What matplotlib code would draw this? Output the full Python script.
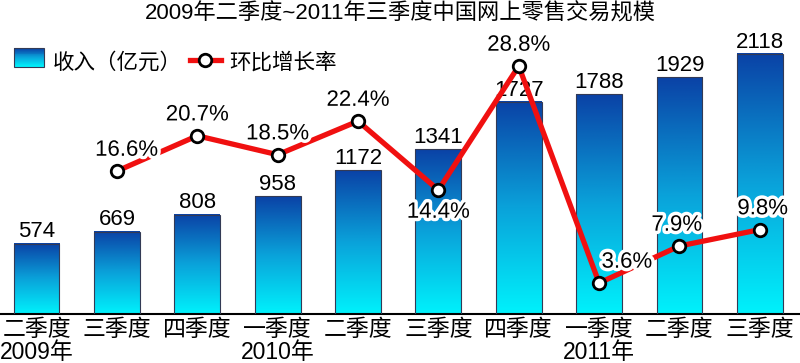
import numpy as np
import matplotlib
matplotlib.use('Agg')
import matplotlib.pyplot as plt
from matplotlib.colors import LinearSegmentedColormap
from matplotlib.patches import Rectangle
from matplotlib.lines import Line2D
import matplotlib.patheffects as pe

plt.rcParams['font.family'] = ['Liberation Sans', 'Noto Sans CJK SC']

quarters = ['二季度', '三季度', '四季度', '一季度', '二季度', '三季度', '四季度', '一季度', '二季度', '三季度']
years = ['2009年', '', '', '2010年', '', '', '', '2011年', '', '']
revenue = [574, 669, 808, 958, 1172, 1341, 1727, 1788, 1929, 2118]
growth = [np.nan, 16.6, 20.7, 18.5, 22.4, 14.4, 28.8, 3.6, 7.9, 9.8]
growth_text = ['', '16.6%', '20.7%', '18.5%', '22.4%', '14.4%', '28.8%', '3.6%', '7.9%', '9.8%']
# label offsets (points) for the growth labels: (dx, dy)
growth_off = [(0, 0), (7, 15), (0, 15), (0, 15), (0, 15), (0, -16), (0, 15), (20, 15), (-2, 15), (2, 15)]

cmap = LinearSegmentedColormap.from_list('bar', ['#00f2fc', '#0aa2da', '#0a42a6'])

fig = plt.figure(figsize=(8, 3.63), dpi=100)
ax = fig.add_axes([0, 49 / 363, 1, 274 / 363])
x = np.arange(len(revenue))
bars = ax.bar(x, revenue, width=0.57, facecolor='none', edgecolor='#333a55', linewidth=0.8, zorder=3)
grad = np.linspace(0, 1, 256).reshape(-1, 1)
for b in bars:
    x0 = b.get_x()
    h = b.get_height()
    ax.imshow(grad, extent=[x0, x0 + b.get_width(), 0, h], origin='lower', aspect='auto', cmap=cmap, zorder=2)
for xi, v in zip(x, revenue):
    ax.annotate(str(v), (xi, v), xytext=(0, 1), textcoords='offset points', ha='center', va='bottom', fontsize=16)

ax.set_xlim(-0.455, 9.5)
ax.set_ylim(0, 274 / 0.1228)
ax.set_xticks(x)
ax.set_xticklabels([q + '\n' + y for q, y in zip(quarters, years)], fontsize=16.5, linespacing=1.0)
ax.tick_params(axis='x', length=0, pad=3)
ax.set_yticks([])
for s in ['top', 'left', 'right']:
    ax.spines[s].set_visible(False)
ax.spines['bottom'].set_linewidth(1.5)

ax2 = ax.twinx()
ax2.set_ylim(0, 274 / 8.61)
ax2.plot(x, growth, color='#f01010', linewidth=3.8, marker='o', markersize=9,
         markerfacecolor='white', markeredgecolor='black', markeredgewidth=2, zorder=5)
for xi, v, t, off in zip(x, growth, growth_text, growth_off):
    if t:
        ax2.annotate(t, (xi, v), xytext=off, textcoords='offset points', ha='center', va='center',
                     fontsize=16, path_effects=[pe.withStroke(linewidth=5, foreground='white')], zorder=6)
ax2.set_yticks([])
for s in ax2.spines.values():
    s.set_visible(False)

fig.text(0.5, 0.961, '2009年二季度~2011年三季度中国网上零售交易规模', ha='center', va='center', fontsize=16)


class GradHandler:
    def legend_artist(self, legend, orig_handle, fontsize, handlebox):
        x0, y0 = handlebox.xdescent, handlebox.ydescent
        w, h = handlebox.width, handlebox.height
        n = 20
        for i in range(n):
            r = Rectangle((x0, y0 + h * i / n), w, h / n + 0.3, facecolor=cmap(i / (n - 1)), edgecolor='none',
                          transform=handlebox.get_transform())
            handlebox.add_artist(r)
        handlebox.add_artist(Rectangle((x0, y0), w, h, facecolor='none', edgecolor='#333a55', linewidth=0.8,
                                       transform=handlebox.get_transform()))
        return r


bar_handle = Rectangle((0, 0), 1, 1)
line_handle = Line2D([], [], color='#f01010', linewidth=3.8, marker='o', markersize=9,
                     markerfacecolor='white', markeredgecolor='black', markeredgewidth=2)
fig.legend([bar_handle, line_handle], ['收入（亿元）', '环比增长率'], loc='upper left',
           bbox_to_anchor=(-0.004, 0.905), ncol=2, frameon=False, fontsize=15.5, handlelength=1.4,
           handleheight=0.95, handletextpad=0.4, columnspacing=0.4, borderpad=0.3,
           handler_map={Rectangle: GradHandler()})

fig.savefig('out.png', dpi=100)
